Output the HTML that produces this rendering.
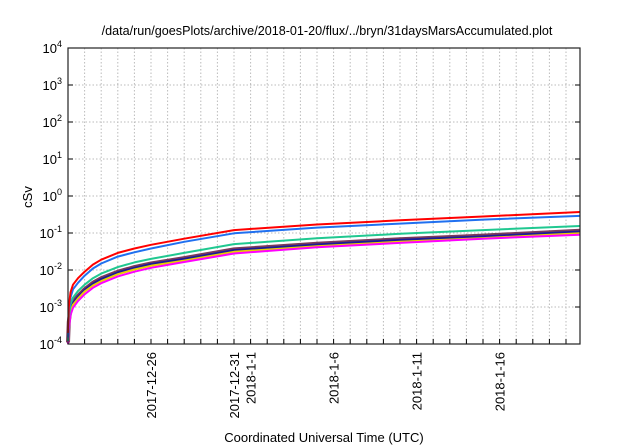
<!DOCTYPE html>
<html><head><meta charset="utf-8"><style>
body{margin:0;background:#fff;}
svg{display:block;font-family:"Liberation Sans",sans-serif;}
</style></head><body>
<svg id="chart" width="640" height="448">
<text x="327" y="35" font-size="12.6" text-anchor="middle">/data/run/goesPlots/archive/2018-01-20/flux/../bryn/31daysMarsAccumulated.plot</text>
<text transform="translate(32,197) rotate(-90)" font-size="13" text-anchor="middle">cSv</text>
<text x="324" y="442" font-size="13" text-anchor="middle">Coordinated Universal Time (UTC)</text>
<g id="grid"></g><g id="ticks"></g><g id="series"></g>
<rect x="68" y="48" width="512" height="296" fill="none" stroke="#222" stroke-width="1.2"/>
</svg>
<script>
const days=[0,0.05,0.15,0.3,0.6,1,1.5,2,3,4,5,7,10,15,20,25,31];
const red=[2e-4,1e-3,2.5e-3,4e-3,6e-3,9e-3,1.4e-2,1.9e-2,2.9e-2,3.8e-2,4.8e-2,7e-2,1.2e-1,1.7e-1,2.2e-1,2.8e-1,3.7e-1];
const blue=[1.5e-4,7e-4,1.8e-3,3e-3,4.5e-3,7e-3,1.1e-2,1.5e-2,2.3e-2,3e-2,3.8e-2,5.8e-2,9.8e-2,1.4e-1,1.8e-1,2.3e-1,2.9e-1];
const green=[1.2e-4,5e-4,1.2e-3,1.8e-3,2.7e-3,4e-3,6e-3,8e-3,1.2e-2,1.6e-2,2e-2,2.9e-2,5e-2,7.2e-2,9.5e-2,1.2e-1,1.55e-1];
const brown=[1.1e-4,4e-4,9e-4,1.4e-3,2e-3,3e-3,4.5e-3,6e-3,9e-3,1.2e-2,1.5e-2,2.1e-2,3.6e-2,5.1e-2,6.8e-2,8.5e-2,1.15e-1];
const navy=[1.1e-4,3.8e-4,8.5e-4,1.3e-3,1.9e-3,2.9e-3,4.3e-3,5.7e-3,8.6e-3,1.15e-2,1.45e-2,2e-2,3.45e-2,4.9e-2,6.5e-2,8.1e-2,1.1e-1];
const yellow=[1e-4,3.3e-4,7.5e-4,1.15e-3,1.7e-3,2.6e-3,3.8e-3,5e-3,7.7e-3,1.03e-2,1.3e-2,1.8e-2,3.1e-2,4.4e-2,5.8e-2,7.3e-2,9.8e-2];
const magenta=[1e-4,2.5e-4,6e-4,9.5e-4,1.45e-3,2.2e-3,3.3e-3,4.4e-3,6.7e-3,9e-3,1.15e-2,1.65e-2,2.8e-2,4.1e-2,5.4e-2,7e-2,9e-2];
const yExps=[-4,-3,-2,-1,0,1,2,3,4];
const xLabels=["2017-12-26","2017-12-31","2018-1-1","2018-1-6","2018-1-11","2018-1-16"];
const xLabelDays=[5,10,11,16,21,26];
const nDays=31;
const NS="http://www.w3.org/2000/svg";
const L=68,R=580,T=48,B=344;
const xs=d=>L+d*16.6;
const ys=v=>T+(4-Math.log10(v))*(B-T)/8;
function mk(tag,attrs,parent){const e=document.createElementNS(NS,tag);for(const k in attrs)e.setAttribute(k,attrs[k]);parent.appendChild(e);return e;}
const grid=document.getElementById('grid'),ticks=document.getElementById('ticks'),ser=document.getElementById('series');
for(let d=1;d<=nDays;d++){const x=xs(d);if(x>=R)break;
 const g=mk('line',{x1:x,x2:x,y1:T,y2:B,stroke:'#bbb','stroke-dasharray':'1.5,2','stroke-width':1},grid);
 
 
 const t=mk('line',{x1:x,x2:x,y1:B,y2:B-5,stroke:'#000'},ticks);
 
 
}
yExps.forEach(e=>{const y=ys(Math.pow(10,e));
 if(e>-4&&e<4){const g=mk('line',{x1:L,x2:R,y1:y,y2:y,stroke:'#bbb','stroke-dasharray':'1.5,2'},grid);
 
 }
 mk('line',{x1:L,x2:L+5,y1:y,y2:y,stroke:'#000'},ticks);
 mk('line',{x1:R,x2:R-5,y1:y,y2:y,stroke:'#000'},ticks);
 const t=mk('text',{x:L-6,y:y+5,'font-size':13,'text-anchor':'end'},ticks);
 
 
 t.textContent='10';const s=mk('tspan',{dy:-6,'font-size':9},t);s.textContent=String(e);
});
xLabels.forEach((lab,i)=>{const x=xs(xLabelDays[i]);
 const t=mk('text',{transform:`translate(${x+5},${B+8}) rotate(-90)`,'font-size':13,'text-anchor':'end'},ticks);
 
 
 t.textContent=lab;});
const seriesList=[[brown,'#7a3a5a',4,'series-brown'],[navy,'#1a1a9a',2,'series-navy'],[yellow,'#e8d000',2,'series-yellow'],[magenta,'#ff00ff',2,'series-magenta'],[green,'#20c890',2,'series-green'],[blue,'#2070f0',2,'series-blue'],[red,'#ff0000',2,'series-red']];
seriesList.forEach(([vals,c,w,n])=>{
 const d=vals.map((v,i)=>(i?'L':'M')+Math.min(xs(days[i]),R).toFixed(1)+','+ys(v).toFixed(1)).join(' ');
 const p=mk('path',{d:d,fill:'none',stroke:c,'stroke-width':w,'stroke-linejoin':'round'},ser);
 
 
});
</script>
</body></html>
